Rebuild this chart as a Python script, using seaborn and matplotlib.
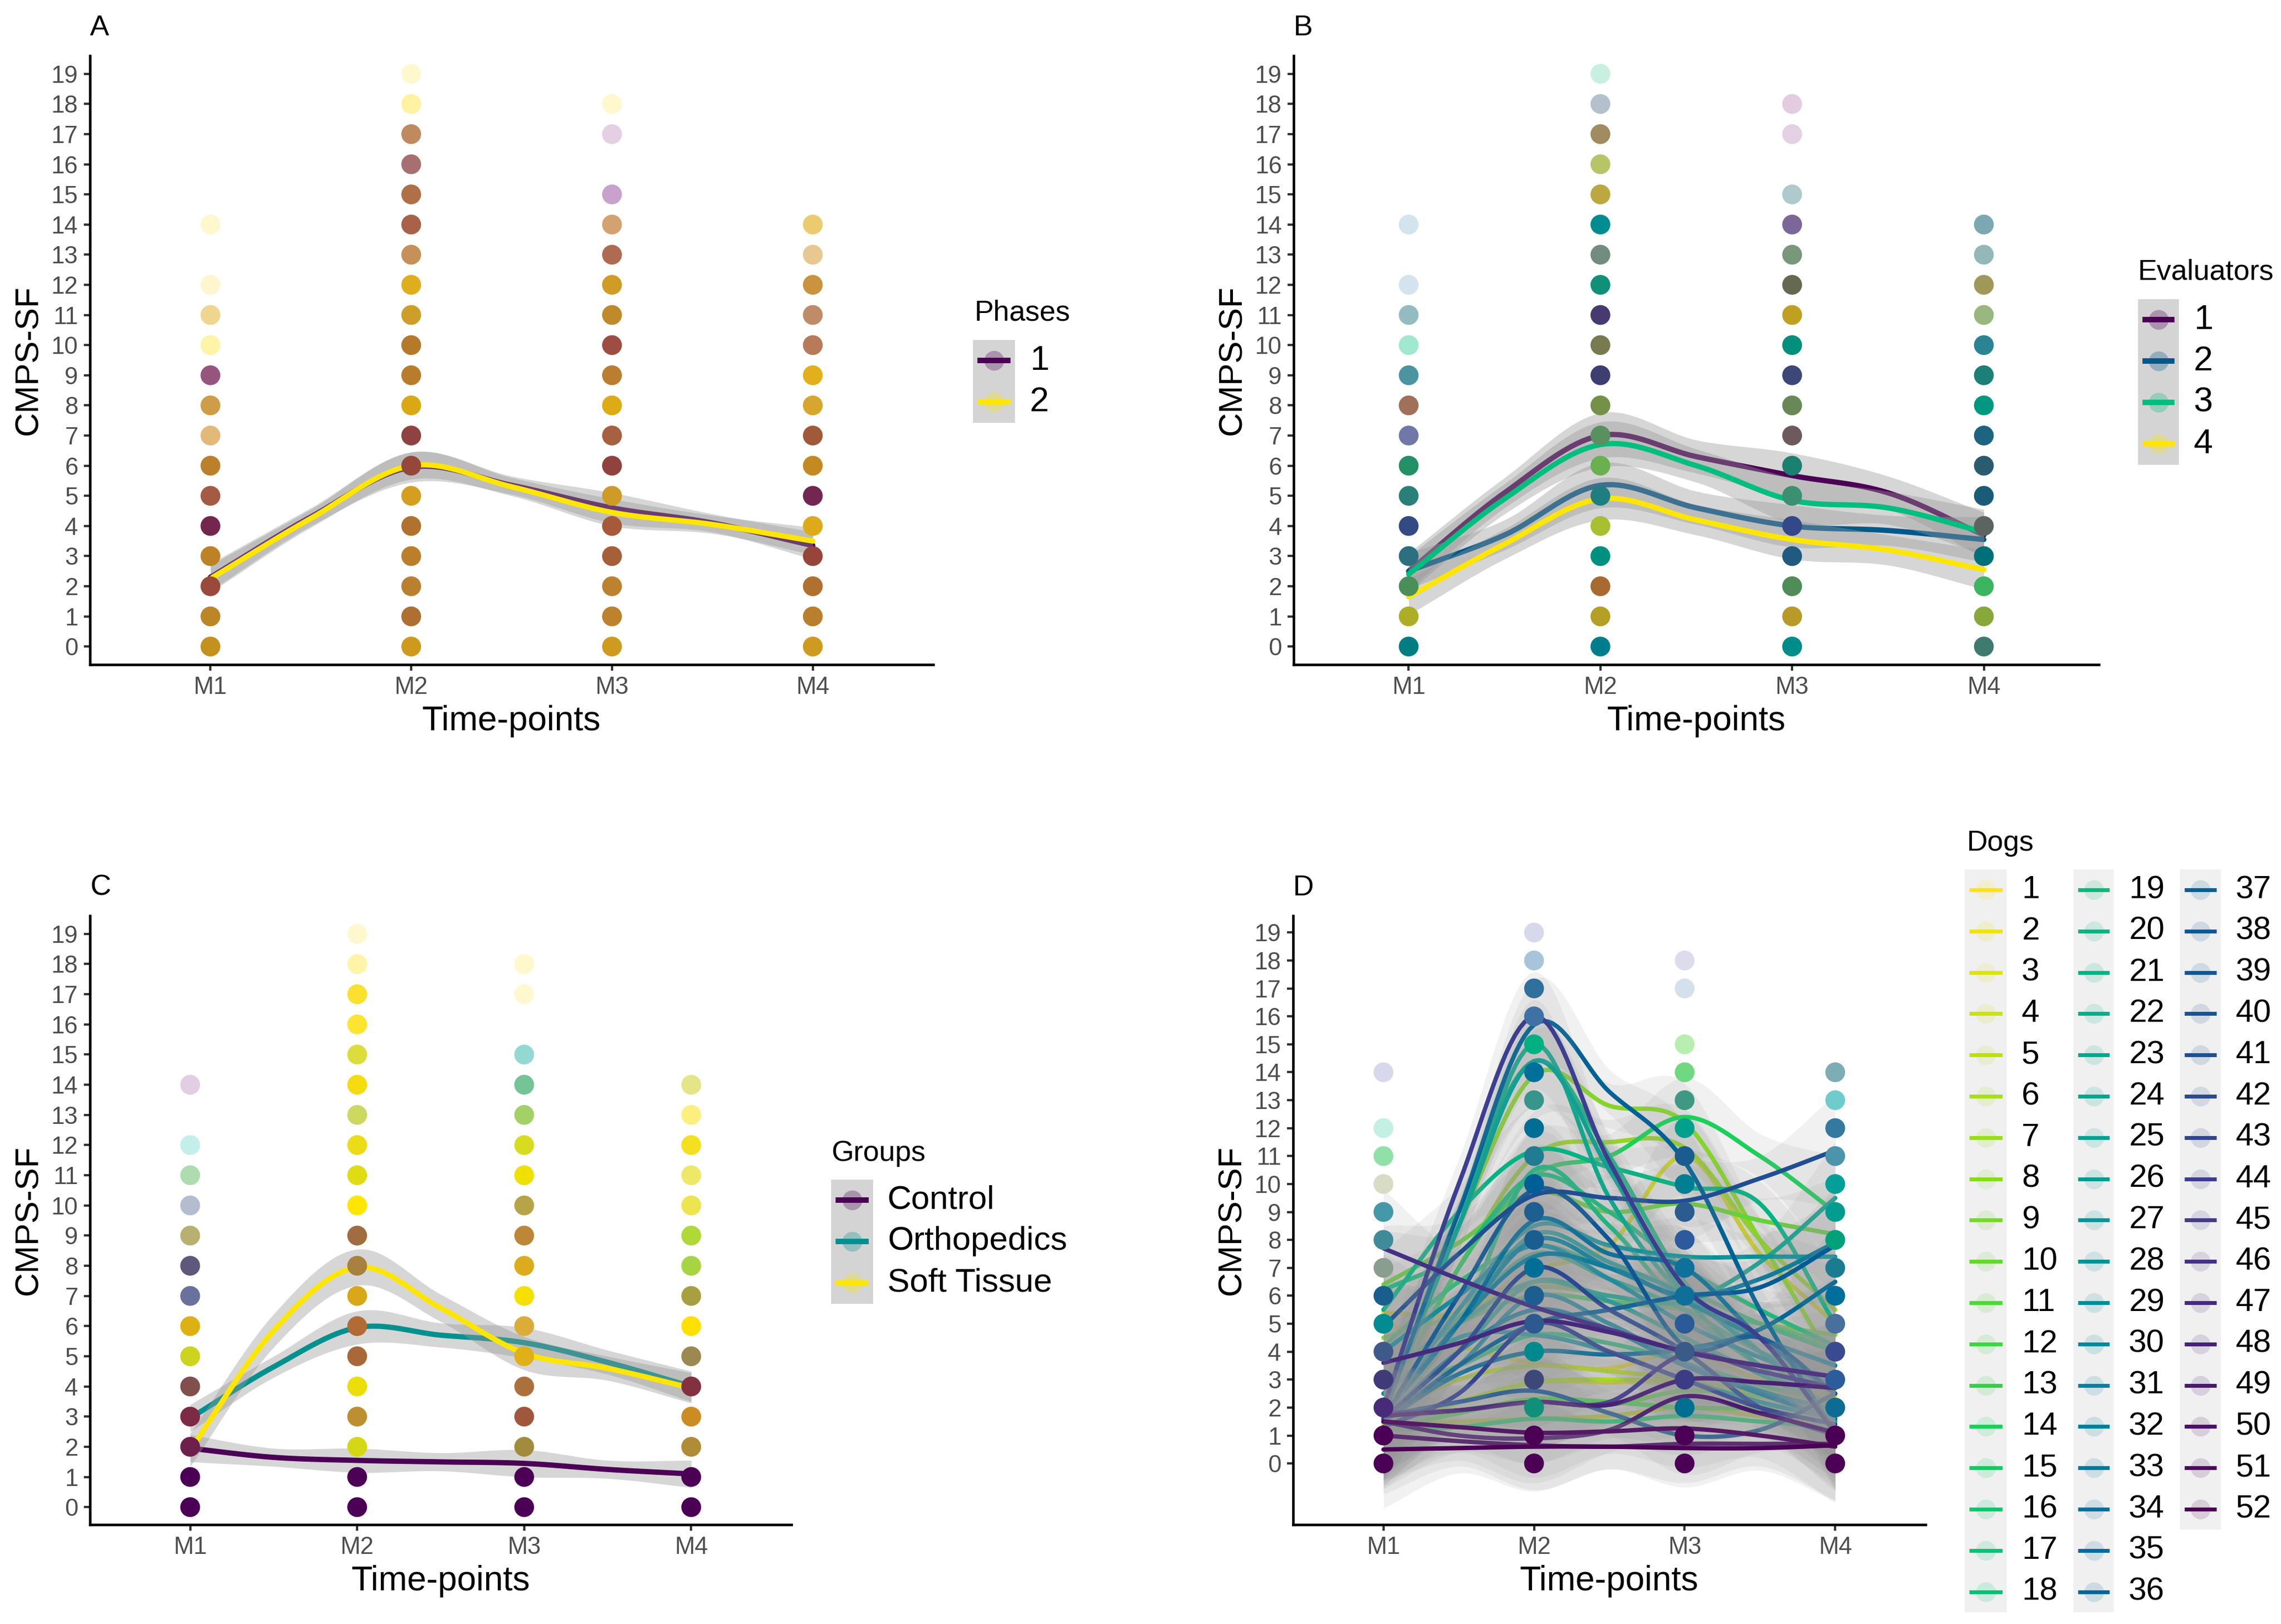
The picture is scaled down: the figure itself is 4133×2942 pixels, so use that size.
import numpy as np
import pandas as pd
import seaborn as sns
import matplotlib as mpl
mpl.use('Agg')
from matplotlib import pyplot as plt
from matplotlib.patches import Rectangle

W, H = 4133, 2942
sns.set_theme(style='white')
plt.rcParams['font.family'] = ['Liberation Sans', 'DejaVu Sans']

time_labels = ['M1', 'M2', 'M3', 'M4']
time_pos = [1, 2, 3, 4]
#curves are read at each time point and half way between
curve_pos = [1, 1.5, 2, 2.5, 3, 3.5, 4]
score_ticks = list(range(20))

#panel A, scores seen at each time point and the colour of each dot
a_scores = [
    [0, 1, 2, 3, 4, 5, 6, 7, 8, 9, 10, 11, 12, 14],
    list(range(20)),
    [0, 1, 2, 3, 4, 5, 6, 7, 8, 9, 10, 11, 12, 13, 14, 15, 17, 18],
    list(range(15)),
]
a_colors = [
    ['#C4901E', '#BC8526', '#9A4A3A', '#BE8226', '#75264F', '#A55A44', '#BC7F2B', '#E3B97A', '#CF9C48', '#95557F', '#FFF4A8', '#EFD590', '#FFF6CF', '#FFF7CE'],
    ['#CE9A1E', '#AD7030', '#B9812F', '#BB7F2C', '#B2722F', '#D49F1E', '#94473A', '#8E4342', '#DAA815', '#B87C2C', '#B5792A', '#CE9E2A', '#DFAE1F', '#C69059', '#A9624A', '#AF7048', '#A86F70', '#BF8A5E', '#FFF2A0', '#FFF8CF'],
    ['#CF9A20', '#BC822D', '#BD822F', '#A5603A', '#A55A3A', '#CE9A28', '#90423E', '#A76040', '#DDAB15', '#BB7D30', '#9E4D42', '#C08A2C', '#D19C25', '#AF6A52', '#D4A270', '#C8A2CC', '#E4D0E2', '#FFF8CF'],
    ['#CF9A20', '#BA7F2C', '#B0702F', '#97453A', '#DDAA1A', '#722651', '#C48A22', '#A05A3A', '#D7A62E', '#E2B01A', '#B77A5A', '#C08B68', '#C9933F', '#E8C890', '#ECCB70'],
]
phase_names = ['1', '2']
phase_colors = ['#4B0055', '#FFE600']
phase_curves = [
    [2.3, 4.3, 5.95, 5.35, 4.6, 4.1, 3.35],
    [2.25, 4.25, 6.0, 5.3, 4.45, 4.05, 3.5],
]
phase_se = [
    [0.45, 0.3, 0.5, 0.3, 0.5, 0.3, 0.45],
    [0.45, 0.3, 0.45, 0.3, 0.45, 0.3, 0.45],
]

#panel B
b_scores = a_scores
b_colors = [
    ['#007D80', '#ADAE25', '#4A8F5A', '#2B6F80', '#334B82', '#2A8078', '#249068', '#7078A8', '#A0705A', '#4C94A0', '#A0E8D0', '#94BCC0', '#D4E4EE', '#D4E4EE'],
    ['#007D8C', '#B4A025', '#A86A30', '#009080', '#A8C030', '#1F7F80', '#6AB050', '#5A9060', '#759048', '#3E3E70', '#7A7A50', '#473A70', '#109078', '#728C80', '#008C90', '#BCA840', '#B8C468', '#A08C60', '#B4C0CC', '#C8F0E0'],
    ['#008C88', '#B89A28', '#4F8C58', '#205A80', '#334888', '#3A9070', '#1A8070', '#6C5A5C', '#688858', '#3E4878', '#00907C', '#C0A020', '#666850', '#78987C', '#7C6898', '#AECACC', '#E4D0E4', '#E4CCE0'],
    ['#3F7A70', '#88A83C', '#3CB460', '#007078', '#5A6460', '#1A5C78', '#2A5C70', '#1C6480', '#009880', '#1C8078', '#2A8494', '#98B880', '#A09858', '#94B8B8', '#7CA8B4'],
]
evaluator_names = ['1', '2', '3', '4']
evaluator_colors = ['#4B0055', '#00588B', '#00BE7D', '#FFE600']
evaluator_curves = [
    [2.5, 5.1, 7.0, 6.3, 5.67, 5.1, 3.7],
    [2.5, 3.7, 5.35, 4.6, 4.0, 3.85, 3.55],
    [2.4, 4.9, 6.7, 6.0, 4.85, 4.6, 3.8],
    [1.65, 3.4, 4.9, 4.2, 3.55, 3.2, 2.55],
]
evaluator_se = [
    [0.6, 0.5, 0.75, 0.55, 0.75, 0.55, 0.75],
    [0.6, 0.5, 0.75, 0.55, 0.7, 0.5, 0.75],
    [0.6, 0.5, 0.75, 0.55, 0.75, 0.55, 0.75],
    [0.6, 0.5, 0.7, 0.5, 0.65, 0.5, 0.65],
]

#panel C
c_scores = a_scores
c_colors = [
    ['#4B0055', '#4B0055', '#6F1F4C', '#7D2A44', '#81504C', '#CCD420', '#DDB014', '#68729C', '#60587C', '#B8B070', '#B4BCD0', '#AEDCB0', '#C4EEEA', '#E2CEE4'],
    ['#4B0055', '#4B0055', '#D4D814', '#BC9030', '#ECDE08', '#A86838', '#B06C34', '#D8A818', '#A88040', '#A06C40', '#FFE600', '#E0DC14', '#ECDC18', '#CCD860', '#F4DC10', '#DCDC3C', '#FDE430', '#FBE030', '#FFF4A8', '#FFF8CF'],
    ['#4B0055', '#4B0055', '#A08C3C', '#A0583C', '#AC703C', '#E0B018', '#DCAC38', '#F6E000', '#DCAC1C', '#BC8838', '#B8A448', '#F0E000', '#D8DC20', '#A4D068', '#74C498', '#94D8D4', '#FFF8CF', '#FFF8CC'],
    ['#4B0055', '#4B0055', '#B08C38', '#CC8C24', '#833040', '#9C8850', '#FFE000', '#A8A040', '#A8D444', '#B0D838', '#ECE450', '#EEE868', '#F4E020', '#FDEE80', '#E4E488'],
]
group_names = ['Control', 'Orthopedics', 'Soft Tissue']
group_colors = ['#4B0055', '#00918E', '#FFE600']
group_curves = [
    [1.95, 1.65, 1.55, 1.5, 1.45, 1.25, 1.1],
    [2.95, 4.65, 5.95, 5.7, 5.45, 4.8, 4.0],
    [1.9, 5.85, 7.95, 6.6, 5.1, 4.6, 3.95],
]
group_se = [
    [0.45, 0.3, 0.4, 0.3, 0.45, 0.3, 0.45],
    [0.45, 0.35, 0.55, 0.4, 0.5, 0.4, 0.5],
    [0.55, 0.55, 0.6, 0.45, 0.55, 0.4, 0.5],
]

#panel D
d_scores = a_scores
d_colors = [
    ['#4B0055', '#4B0055', '#472A78', '#3F3A78', '#3F5A88', '#008C90', '#1A5E90', '#8A9E90', '#3F8C98', '#4498A8', '#D8DCC4', '#90E0A8', '#C4F0E4', '#D8D8EC'],
    ['#4B0055', '#4B0055', '#109078', '#3C4878', '#00898C', '#2C5A90', '#1E5D90', '#006F98', '#1A5E90', '#1E5E90', '#005E96', '#207C90', '#006E94', '#38958C', '#006F9A', '#00B080', '#3E72A4', '#30709C', '#A8C4DC', '#D8D8EC'],
    ['#4B0055', '#4B0055', '#006E90', '#3C3C84', '#3A5A88', '#2A5A98', '#0F6F9A', '#0F709A', '#2C5A9C', '#2A5C90', '#007F94', '#1A5C90', '#00A08C', '#3F9884', '#70D880', '#B8EEB0', '#D4E0EC', '#DCDCEC'],
    ['#4B0055', '#4B0055', '#0C6C94', '#2C5C9C', '#3A4A90', '#48709C', '#006E9C', '#1A7C90', '#00A078', '#009C90', '#00A098', '#4C94AC', '#347AA0', '#70CCCC', '#7CACB4'],
]
dog_palette_stops = ['#FFE600', '#7FDD1C', '#00CC6A', '#00AA8C', '#00879F', '#005F94', '#433C8E', '#4B0055']
dog_names = [str(i) for i in range(1, 53)]
dog_curves = [
    [5.0, 4.2, 3.6, 3.4, 4.0, 3.0, 2.4],
    [1.6, 2.2, 2.9, 2.9, 2.9, 2.4, 2.0],
    [5.4, 5.4, 6.9, 7.8, 11.0, 7.5, 5.0],
    [1.4, 1.5, 1.6, 1.7, 2.0, 1.7, 1.5],
    [1.7, 3.0, 3.5, 3.3, 3.0, 2.4, 2.2],
    [1.3, 2.2, 2.9, 3.0, 2.9, 2.6, 2.2],
    [1.7, 7.0, 11.0, 11.5, 11.3, 8.0, 5.5],
    [2.0, 8.5, 13.9, 12.8, 12.2, 8.0, 3.5],
    [4.5, 5.3, 6.3, 6.0, 5.5, 5.0, 4.6],
    [6.4, 7.9, 9.7, 9.0, 9.3, 8.7, 8.2],
    [1.5, 1.9, 2.2, 2.1, 2.6, 2.4, 2.1],
    [1.2, 1.8, 2.3, 2.2, 2.0, 2.0, 2.2],
    [3.2, 5.0, 6.0, 5.8, 5.5, 5.0, 4.2],
    [1.8, 7.0, 10.3, 11.0, 12.4, 11.0, 9.0],
    [1.2, 1.3, 1.6, 1.5, 1.7, 1.5, 1.3],
    [4.2, 6.5, 7.8, 7.0, 6.2, 5.0, 4.0],
    [2.5, 3.5, 4.6, 4.3, 3.6, 2.8, 2.2],
    [6.2, 7.5, 10.3, 9.0, 7.0, 5.5, 4.2],
    [1.6, 5.0, 10.5, 8.5, 5.5, 3.5, 2.0],
    [1.6, 9.0, 14.4, 11.0, 6.5, 4.0, 1.5],
    [5.5, 9.0, 11.2, 10.6, 9.9, 9.3, 5.0],
    [3.0, 5.2, 7.5, 6.6, 5.5, 4.0, 3.0],
    [1.7, 8.5, 15.0, 9.5, 6.0, 4.5, 1.0],
    [3.0, 5.0, 6.5, 6.0, 5.8, 7.2, 9.5],
    [1.6, 8.5, 14.4, 10.5, 6.0, 3.5, 2.0],
    [1.8, 4.0, 6.5, 5.8, 4.5, 3.2, 2.0],
    [1.7, 5.0, 8.2, 7.2, 6.0, 4.0, 2.5],
    [1.7, 5.5, 8.5, 7.8, 7.4, 7.4, 7.4],
    [2.5, 4.5, 4.6, 4.0, 3.0, 2.2, 1.6],
    [4.0, 6.0, 7.8, 6.6, 5.0, 3.8, 2.8],
    [1.5, 3.5, 6.0, 5.0, 3.6, 2.6, 1.9],
    [1.8, 5.0, 8.0, 7.0, 5.8, 4.5, 3.5],
    [1.7, 5.0, 7.4, 7.0, 6.0, 6.6, 7.9],
    [1.6, 4.0, 5.5, 4.8, 3.5, 2.5, 1.6],
    [1.7, 5.0, 8.7, 7.5, 7.0, 4.5, 2.5],
    [1.5, 3.2, 4.0, 3.9, 4.1, 4.8, 6.5],
    [1.7, 9.0, 15.7, 13.3, 10.8, 5.5, 1.1],
    [1.5, 3.5, 5.0, 5.5, 6.0, 6.3, 7.8],
    [1.6, 6.0, 9.8, 8.0, 4.2, 4.5, 2.5],
    [1.7, 2.2, 2.6, 1.8, 1.0, 1.2, 2.5],
    [4.9, 7.5, 9.6, 9.5, 9.4, 10.2, 11.2],
    [1.6, 4.0, 7.0, 5.5, 4.0, 2.0, 1.0],
    [1.3, 2.5, 5.0, 4.0, 3.0, 2.0, 1.4],
    [2.0, 10.0, 16.0, 10.8, 6.3, 4.5, 1.1],
    [1.8, 1.9, 2.2, 2.2, 3.9, 3.3, 2.7],
    [7.7, 6.6, 5.6, 4.8, 4.0, 3.5, 3.1],
    [3.6, 4.3, 5.1, 4.7, 4.0, 3.5, 3.1],
    [1.7, 1.9, 2.2, 2.1, 3.0, 2.9, 2.7],
    [1.5, 1.0, 0.9, 1.2, 2.4, 1.8, 1.1],
    [1.0, 0.8, 0.65, 0.6, 0.7, 0.7, 0.7],
    [1.5, 1.3, 1.1, 1.15, 1.25, 1.0, 0.6],
    [0.5, 0.55, 0.6, 0.6, 0.55, 0.55, 0.65],
]
dog_se = [2.1, 0.9, 1.6, 0.8, 1.4, 0.8, 2.0]


def panel_axes(fig, left, right, top, bottom):
    return fig.add_axes([left / W, 1 - bottom / H, (right - left) / W, (bottom - top) / H])


def rounded(values, n=16):
    #draws the read values as a smooth stroke, they stay on the curve
    x = np.array(curve_pos, dtype=float)
    y = np.array(values, dtype=float)
    slope = np.gradient(y, x)
    xs, ys = [], []
    for i in range(len(x) - 1):
        h = x[i + 1] - x[i]
        t = np.linspace(0, 1, n, endpoint=False)
        xs.append(x[i] + t * h)
        ys.append((2 * t**3 - 3 * t**2 + 1) * y[i] + (t**3 - 2 * t**2 + t) * h * slope[i]
                  + (-2 * t**3 + 3 * t**2) * y[i + 1] + (t**3 - t**2) * h * slope[i + 1])
    return np.append(np.concatenate(xs), x[-1]), np.append(np.concatenate(ys), y[-1])


def smooth_curves(ax, curves, se_list, colors, lw, band_alpha):
    #same idea as geom_smooth, ribbon then line for each group, later groups on top
    for i in range(len(curves)):
        z = 1 + i * 0.01
        grid, fit = rounded(curves[i])
        _, half = rounded(se_list[i])
        ax.fill_between(grid, fit - half, fit + half, color='#999999', alpha=band_alpha, lw=0, zorder=z)
        sns.lineplot(x=grid, y=fit, color=colors[i], lw=lw, estimator=None, sort=False, legend=False,
                     zorder=z + 0.005, ax=ax)


def dots(ax, scores, colors):
    rows = []
    for t in range(len(time_pos)):
        for s, c in zip(scores[t], colors[t]):
            rows.append({'time': time_pos[t], 'score': s, 'colour': c})
    df = pd.DataFrame(rows)
    pal = {c: c for c in df['colour'].unique()}
    sns.scatterplot(data=df, x='time', y='score', hue='colour', palette=pal, legend=False,
                    s=74, linewidth=0, zorder=5, ax=ax)


def finish(ax, tag, ymin):
    ax.set_xlim(0.4, 4.6)
    ax.set_ylim(ymin, 19.6)
    ax.set_xticks(time_pos)
    ax.set_xticklabels(time_labels)
    ax.set_yticks(score_ticks)
    ax.tick_params(left=True, bottom=True, length=2.6, width=1, color='#333333', labelcolor='#4D4D4D',
                   labelsize=10.5, pad=2.5)
    sns.despine(ax=ax)
    for side in ['left', 'bottom']:
        ax.spines[side].set_color('black')
        ax.spines[side].set_linewidth(1.1)
    box = ax.get_position()
    w_px, h_px = box.width * W, box.height * H
    ax.set_xlabel('Time-points', fontsize=15, color='black', va='center')
    ax.set_ylabel('CMPS-SF', fontsize=14.5, color='black', va='center')
    ax.xaxis.set_label_coords(0.5, -102 / h_px)
    ax.yaxis.set_label_coords(-111 / w_px, 0.5)
    ax.text(0, 1 + 51 / h_px, tag, transform=ax.transAxes, fontsize=12.5, va='center', ha='left', color='black')


def legend_column(ov, names, colors, box_x0, box_x1, first_y, step, text_x, box_color, lw, fontsize, dot_alpha):
    ov.add_patch(Rectangle((box_x0, first_y - step / 2), box_x1 - box_x0, step * len(names), color=box_color, lw=0))
    for i in range(len(names)):
        y = first_y + i * step
        mid = (box_x0 + box_x1) / 2
        ov.scatter([mid], [y], s=74, color=colors[i], alpha=dot_alpha, linewidth=0, zorder=3)
        ov.plot([box_x0 + 8, box_x1 - 8], [y, y], color=colors[i], lw=lw, zorder=4, solid_capstyle='butt')
        ov.text(text_x, y, names[i], fontsize=fontsize, va='center', ha='left', color='black')


fig = plt.figure(figsize=(W / 300, H / 300), dpi=300, facecolor='white')

ax_a = panel_axes(fig, 163, 1691, 101, 1204)
smooth_curves(ax_a, phase_curves, phase_se, phase_colors, 2.3, 0.4)
dots(ax_a, a_scores, a_colors)
finish(ax_a, 'A', -0.6)

ax_b = panel_axes(fig, 2344, 3803, 101, 1204)
smooth_curves(ax_b, evaluator_curves, evaluator_se, evaluator_colors, 2.3, 0.4)
dots(ax_b, b_scores, b_colors)
finish(ax_b, 'B', -0.6)

ax_c = panel_axes(fig, 163, 1434, 1659, 2762)
smooth_curves(ax_c, group_curves, group_se, group_colors, 2.3, 0.4)
dots(ax_c, c_scores, c_colors)
finish(ax_c, 'C', -0.58)

ax_d = panel_axes(fig, 2343, 3489, 1659, 2762)
dog_colors = sns.blend_palette(dog_palette_stops, 52)
smooth_curves(ax_d, dog_curves, [dog_se] * 52, dog_colors, 1.9, 0.13)
dots(ax_d, d_scores, d_colors)
finish(ax_d, 'D', -2.19)

#legends sit outside the panels, overlay axes in pixels of the figure
ov = fig.add_axes([0, 0, 1, 1], zorder=10)
ov.set_xlim(0, W)
ov.set_ylim(H, 0)
ov.axis('off')
ov.patch.set_alpha(0)

ov.text(1766, 567, 'Phases', fontsize=12.5, va='center', ha='left', color='black')
legend_column(ov, phase_names, phase_colors, 1763, 1839, 653, 75, 1866, '#D4D4D4', 2.4, 15, 0.3)
ov.text(3874, 493, 'Evaluators', fontsize=12.5, va='center', ha='left', color='black')
legend_column(ov, evaluator_names, evaluator_colors, 3874, 3948, 579, 75, 3975, '#D4D4D4', 2.4, 15, 0.3)
ov.text(1506, 2089, 'Groups', fontsize=12.5, va='center', ha='left', color='black')
legend_column(ov, group_names, group_colors, 1506, 1582, 2174, 75, 1608, '#D4D4D4', 2.4, 14.5, 0.3)
ov.text(3564, 1527, 'Dogs', fontsize=12.5, va='center', ha='left', color='black')
legend_column(ov, dog_names[:18], dog_colors[:18], 3560, 3636, 1612, 74.8, 3663, '#F0F0F0', 1.7, 14, 0.15)
legend_column(ov, dog_names[18:36], dog_colors[18:36], 3757, 3830, 1612, 74.8, 3857, '#F0F0F0', 1.7, 14, 0.15)
legend_column(ov, dog_names[36:], dog_colors[36:], 3950, 4024, 1612, 74.8, 4051, '#F0F0F0', 1.7, 14, 0.15)

fig.savefig('out.png', dpi=300, facecolor='white')
